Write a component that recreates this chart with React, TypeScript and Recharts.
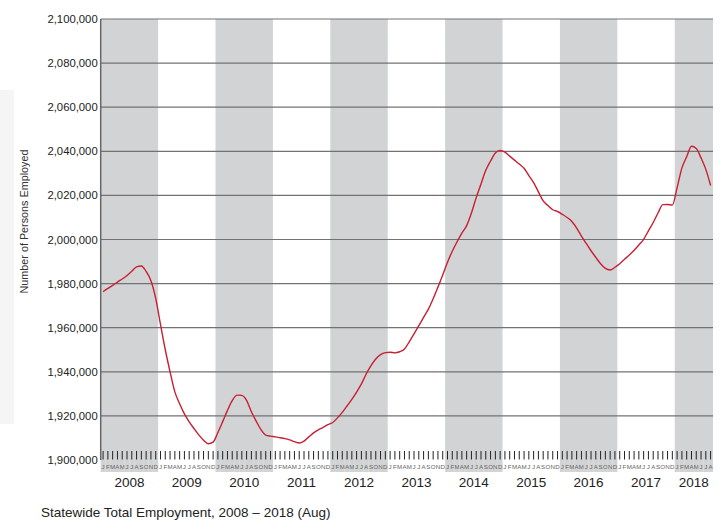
import React from 'react';
import { LineChart, Line, XAxis, YAxis, ReferenceArea, ReferenceLine } from 'recharts';

const years = [2008, 2009, 2010, 2011, 2012, 2013, 2014, 2015, 2016, 2017, 2018];
const monthLetters = ['J', 'F', 'M', 'A', 'M', 'J', 'J', 'A', 'S', 'O', 'N', 'D'];

const emp2008 = [1976300, 1977800, 1979200, 1980700, 1982100, 1983700, 1985600, 1987600, 1988000, 1985500, 1981300, 1973300];
const emp2009 = [1961500, 1950000, 1940000, 1930900, 1925500, 1920900, 1917300, 1914300, 1911400, 1909000, 1907400, 1908100];
const emp2010 = [1912500, 1917400, 1922500, 1926900, 1929400, 1929300, 1927000, 1921900, 1917600, 1913800, 1911300, 1910800];
const emp2011 = [1910500, 1910100, 1909700, 1909100, 1908300, 1907700, 1908600, 1910500, 1912300, 1913700, 1914800, 1916000];
const emp2012 = [1917000, 1919100, 1921600, 1924500, 1927500, 1930800, 1934500, 1939000, 1942800, 1945800, 1947800, 1948700];
const emp2013 = [1948900, 1948600, 1949100, 1950300, 1953600, 1957200, 1960900, 1964700, 1968400, 1973100, 1978400, 1983900];
const emp2014 = [1989700, 1994700, 1999000, 2002900, 2006300, 2012000, 2019000, 2025200, 2031400, 2035600, 2039200, 2040400];
const emp2015 = [2039600, 2037800, 2036000, 2034200, 2032300, 2029000, 2025800, 2021600, 2017500, 2015400, 2013500, 2012700];
const emp2016 = [2011400, 2010000, 2008200, 2005200, 2001500, 1998200, 1994900, 1991900, 1989000, 1986900, 1986200, 1987400];
const emp2017 = [1989000, 1991000, 1993000, 1995100, 1997500, 2000100, 2003900, 2007700, 2012000, 2015800, 2015900, 2015600];
const emp2018 = [2023500, 2032500, 2037500, 2042300, 2041300, 2037000, 2031800, 2024500];

const yTicks = [1900000, 1920000, 1940000, 1960000, 1980000, 2000000, 2020000, 2040000, 2060000, 2080000, 2100000];

const series = [emp2008, emp2009, emp2010, emp2011, emp2012, emp2013, emp2014, emp2015, emp2016, emp2017, emp2018];

const data = series.flatMap((arr, yi) => arr.map((v, mi) => ({ t: yi * 12 + mi + 0.5, v })));
const totalMonths = data.length;
const monthTicks = data.map((d) => d.t);
const yearTicks = years.map((_, yi) => yi * 12 + series[yi].length / 2);
const shadedBands = years
  .map((y, yi) => ({ y, x1: yi * 12, x2: yi * 12 + series[yi].length, shaded: yi % 2 === 0 }))
  .filter((b) => b.shaded);

const BAND = '#d1d3d4';
const FONT = '"Liberation Sans", Arial, Helvetica, sans-serif';

const MonthTick = (props: any) => {
  const { x, y, payload } = props;
  const idx = Math.floor(payload.value);
  const shaded = Math.floor(idx / 12) % 2 === 0;
  return (
    <g>
      {shaded && <rect x={x - 2.45} y={y} width={4.9} height={12} fill={BAND} />}
      <line x1={x} x2={x} y1={y - 9} y2={y - 0.5} stroke="#222" strokeWidth={1} />
      <text x={x} y={y + 8.8} textAnchor="middle" fontSize={6.2} fill="#666" fontFamily={FONT}>
        {monthLetters[idx % 12]}
      </text>
    </g>
  );
};

const fmt = (v: number) => v.toLocaleString('en-US');

export default function App() {
  return (
    <div style={{ position: 'absolute', left: 0, top: 0, width: 725, height: 521, background: '#fff', fontFamily: FONT }}>
      <div style={{ position: 'absolute', left: 0, top: 90, width: 14, height: 334, background: '#f5f5f5' }} />
      <div style={{ position: 'absolute', left: 0, top: 0 }}>
        <LineChart width={725} height={521} data={data} margin={{ top: 19, right: 12, bottom: 19, left: 0 }}>
          <XAxis
            xAxisId="m"
            dataKey="t"
            type="number"
            domain={[0, totalMonths]}
            ticks={monthTicks}
            interval={0}
            height={12}
            tickSize={0}
            tickMargin={0}
            axisLine={false}
            tickLine={false}
            tick={MonthTick}
          />
          <XAxis
            xAxisId="yr"
            dataKey="t"
            type="number"
            domain={[0, totalMonths]}
            ticks={yearTicks}
            interval={0}
            height={30}
            tickSize={0}
            tickMargin={5}
            axisLine={false}
            tickLine={false}
            tickFormatter={(v: number) => String(years[Math.floor(v / 12)])}
            tick={{ fontSize: 13.5, fill: '#222', fontFamily: FONT }}
          />
          <YAxis
            type="number"
            domain={[1900000, 2100000]}
            ticks={yTicks}
            interval={0}
            width={100.7}
            tickSize={0}
            tickMargin={3}
            tickLine={false}
            axisLine={{ stroke: '#666', strokeWidth: 1.5 }}
            tickFormatter={fmt}
            tick={{ fontSize: 11.3, fill: '#222', fontFamily: FONT }}
            label={{
              value: 'Number of Persons Employed',
              angle: -90,
              position: 'center',
              dx: -26,
              dy: -18,
              style: { fontSize: 10.8, fill: '#333', fontFamily: FONT, textAnchor: 'middle' },
            }}
          />
          {shadedBands.map((b) => (
            <ReferenceArea
              key={b.y}
              xAxisId="m"
              x1={b.x1}
              x2={b.x2}
              fill={BAND}
              fillOpacity={1}
              stroke="none"
            />
          ))}
          {yTicks.slice(1).map((t) => (
            <ReferenceLine key={t} xAxisId="m" y={t} stroke="#727272" strokeWidth={1.2} />
          ))}
          <Line
            xAxisId="m"
            type="monotone"
            dataKey="v"
            stroke="#c81f33"
            strokeWidth={1.4}
            dot={false}
            isAnimationActive={false}
          />
        </LineChart>
      </div>
      <div
        style={{
          position: 'absolute',
          left: 41,
          top: 505,
          fontSize: 13.5,
          color: '#222',
          fontFamily: FONT,
          whiteSpace: 'nowrap',
          lineHeight: '16px',
        }}
      >
        Statewide Total Employment, 2008 – 2018 (Aug)
      </div>
    </div>
  );
}
